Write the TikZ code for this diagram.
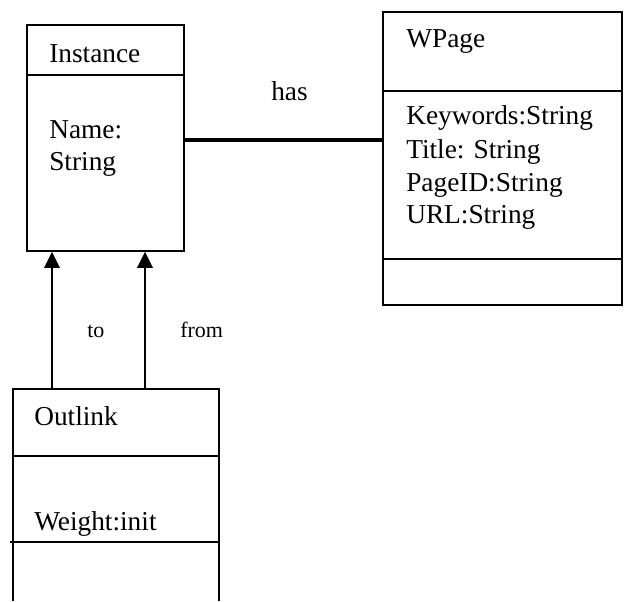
\documentclass[tikz,border=0pt]{standalone}
\usepackage{fontspec}
\setmainfont{Liberation Serif}
\usetikzlibrary{arrows.meta}
\tikzset{
  classbox/.style={draw, line width=1.2pt, inner sep=0pt},
  lbl/.style={anchor=base west, inner sep=0pt, font=\fontsize{20.5}{24}\selectfont},
  small/.style={anchor=base west, inner sep=0pt, font=\fontsize{16.5}{20}\selectfont},
  assoc/.style={line width=2.3pt},
  link/.style={-{Triangle[width=11.5pt, length=12pt]}, line width=1.8pt}
}
\begin{document}
\begin{tikzpicture}[x=0.75pt, y=-0.75pt]
        \useasboundingbox (0, 0) rectangle (624, 601);
        \node[classbox, minimum width=117.75pt, minimum height=169.5pt] (inst) at (105.5, 138) {};
        \node[classbox, minimum width=179.25pt, minimum height=219.75pt] (wpage) at (502.5, 158.5) {};
        \node[inner sep=0pt, minimum width=154.5pt, minimum height=159pt] (out) at (116, 495) {};
        \draw[line width=1.2pt] (out.south west) |- (out.north east) -- (out.south east);
        \draw[line width=1.2pt] (inst.west |- 0, 75) -- (inst.east |- 0, 75);
        \draw[line width=1.2pt] (wpage.west |- 0, 91) -- (wpage.east |- 0, 91);
        \draw[line width=1.2pt] (wpage.west |- 0, 259) -- (wpage.east |- 0, 259);
        \draw[line width=1.2pt] (out.west |- 0, 456) -- (out.east |- 0, 456);
        \draw[line width=1.2pt] (10, 542) -- (out.east |- 0, 542);
        \node[lbl] (instname) at (49, 62) {Instance};
        \node[lbl] (instattr) at (49, 138) {Name:};
        \node[lbl] (instattrb) at (49, 170) {String};
        \node[lbl] (wname) at (406, 47) {WPage};
        \node[lbl] (wkey) at (406, 124) {Keywords:String};
        \node[lbl] (wtitle) at (406, 158) {Title: String};
        \node[lbl] (wid) at (406, 191) {PageID:String};
        \node[lbl] (wurl) at (406, 223) {URL:String};
        \node[lbl] (oname) at (34, 425) {Outlink};
        \node[lbl] (oweight) at (34, 530) {Weight:init};
        \node[lbl] (has) at (271, 100) {has};
        \node[small] (to) at (87, 337) {to};
        \node[small] (from) at (180, 337) {from};
        \draw[assoc] (inst.east |- 0, 140) -- (wpage.west |- 0, 140);
        \draw[link] (out.north -| 52, 0) -- (inst.south -| 52, 0);
        \draw[link] (out.north -| 145, 0) -- (inst.south -| 145, 0);
\end{tikzpicture}
\end{document}
